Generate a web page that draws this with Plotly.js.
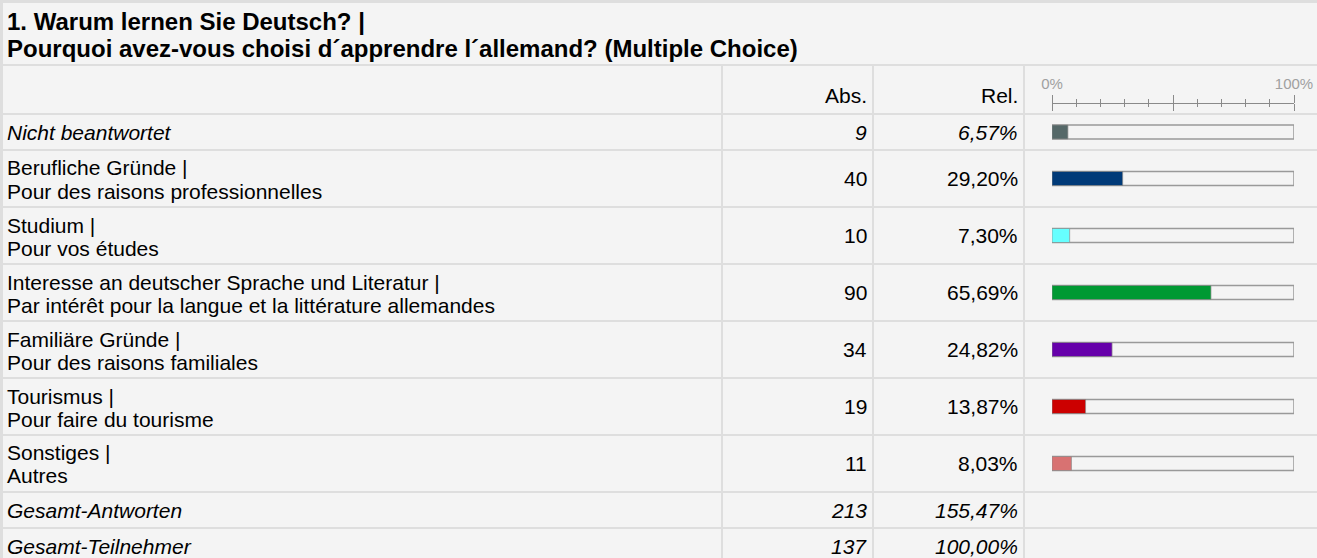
<!DOCTYPE html>
<html>
<head>
<meta charset="utf-8">
<script src="https://cdn.plot.ly/plotly-3.0.1.min.js"></script>
<style>html,body{margin:0;padding:0;background:#fff;}#chart{width:1317px;height:558px;}</style>
</head>
<body>
<div id="chart"></div>
<script>
// ---- data ----
const titleLines = ["1. Warum lernen Sie Deutsch? |", "Pourquoi avez-vous choisi d´apprendre l´allemand? (Multiple Choice)"];
const headerAbs = "Abs.";
const headerRel = "Rel.";
const categories = [
  "Nicht beantwortet",
  "Berufliche Gründe |<br>Pour des raisons professionnelles",
  "Studium |<br>Pour vos études",
  "Interesse an deutscher Sprache und Literatur |<br>Par intérêt pour la langue et la littérature allemandes",
  "Familiäre Gründe |<br>Pour des raisons familiales",
  "Tourismus |<br>Pour faire du tourisme",
  "Sonstiges |<br>Autres"
];
const italicRows = [true, false, false, false, false, false, false];
const absValues = [9, 40, 10, 90, 34, 19, 11];
const relValues = [6.57, 29.20, 7.30, 65.69, 24.82, 13.87, 8.03];
const barColors = ["#556868", "#003a78", "#66ffff", "#009933", "#6600aa", "#cc0000", "#d87272"];
const totalLabels = ["Gesamt-Antworten", "Gesamt-Teilnehmer"];
const totalAbs = [213, 137];
const totalRel = [155.47, 100.00];
const axisTickLabels = ["0%", "", "100%"];
const axisTickVals = [0, 50, 100];

// ---- layout helpers ----
const W = 1317, H = 558;
const px = x => x / W;
const py = y => 1 - y / H;
const fmt = v => v.toFixed(2).replace(".", ",") + "%";
const FONT = "Liberation Sans, Arial, sans-serif";
const GRID = "#dedede", CELL = "#f4f4f4";
const cols = [[3, 721], [723, 872], [874, 1023], [1025, 1317]];
const gap = 2;
const BODY = 21, TITLE = 24, LINE = 23;

const shapes = [];
const annotations = [];
function cell(x0, x1, y0, y1) {
  shapes.push({type: "rect", xref: "paper", yref: "paper", layer: "below",
    x0: px(x0), x1: px(x1), y0: py(y0), y1: py(y1),
    fillcolor: CELL, line: {width: 0}});
}
function txt(t, x, y, anchor, opts) {
  opts = opts || {};
  annotations.push({text: t, xref: "paper", yref: "paper", x: px(x), y: py(y),
    xanchor: anchor, yanchor: "middle", align: anchor === "right" ? "right" : "left",
    showarrow: false, borderpad: 0,
    font: {family: FONT, size: opts.size || BODY, color: opts.color || "#000"}});
}

// title row
cell(3, 1317, 3, 64);
txt("<b>" + titleLines[0] + "</b>", 6, 21.5, "left", {size: TITLE});
txt("<b>" + titleLines[1] + "</b>", 6, 48.5, "left", {size: TITLE});
// header row
cols.forEach(c => cell(c[0], c[1], 66, 113));
txt(headerAbs, 868, 95, "right");
txt(headerRel, 1019, 95, "right");

// rows
let y = 115;
const centers = [];
const allLabels = categories.concat(totalLabels);
const allAbs = absValues.concat(totalAbs);
const allRel = relValues.concat(totalRel);
const allItalic = italicRows.concat(totalLabels.map(() => true));
allLabels.forEach((lab, i) => {
  const parts = lab.split("<br>");
  const h = parts.length === 1 ? 34 : 55;
  cols.forEach(c => cell(c[0], c[1], y, y + h));
  const cy = y + h / 2;
  centers.push(cy);
  const w = s => allItalic[i] ? "<i>" + s + "</i>" : s;
  if (parts.length === 1) {
    txt(w(parts[0]), 6, cy, "left");
  } else {
    const start = cy + 1 - LINE * (parts.length - 1) / 2;
    parts.forEach((p, k) => txt(w(p), 6, start + k * LINE, "left"));
  }
  txt(w(String(allAbs[i])), 868, cy, "right");
  txt(w(fmt(allRel[i])), 1019, cy, "right");
  y += h + gap;
});

const barCenters = centers.slice(0, categories.length);

const traces = [
  { // track (full scale)
    type: "bar", orientation: "h", xaxis: "x2", yaxis: "y",
    x: relValues.map(() => 100), y: barCenters, width: 14,
    marker: {color: CELL, line: {color: "#999999", width: 1.5}},
    hoverinfo: "skip", showlegend: false
  },
  { // values
    type: "bar", orientation: "h", xaxis: "x3", yaxis: "y",
    x: relValues, y: barCenters, width: 14,
    marker: {color: barColors, line: {color: "rgba(140,140,140,0.7)", width: 1}},
    text: categories, hoverinfo: "x", textposition: "none", showlegend: false
  }
];

const axisPos = py(103);
const layout = {
  width: W, height: H,
  margin: {l: 0, r: 0, t: 0, b: 0, pad: 0},
  paper_bgcolor: GRID, plot_bgcolor: "rgba(0,0,0,0)",
  barmode: "overlay",
  showlegend: false,
  xaxis: {visible: false, range: [0, 1], domain: [0, 1]},
  yaxis: {visible: false, range: [H, 0], domain: [0, 1], fixedrange: true},
  xaxis2: {
    domain: [px(1052), px(1294)], range: [0, 100], anchor: "free", position: axisPos,
    side: "top", showgrid: false, zeroline: false,
    showline: true, linecolor: "#8a8a8a", linewidth: 1,
    ticks: "outside", ticklen: 8, tickcolor: "#8a8a8a", tickwidth: 1,
    tickmode: "array", tickvals: axisTickVals, ticktext: axisTickLabels,
    tickfont: {family: FONT, size: 15, color: "#a0a0a0"},
    minor: {dtick: 10, tick0: 0, ticks: "outside", ticklen: 4, tickcolor: "#8a8a8a", tickwidth: 1, showgrid: false}
  },
  xaxis3: {
    overlaying: "x2", range: [0, 100], anchor: "free", position: axisPos,
    side: "bottom", showgrid: false, zeroline: false, showline: false,
    ticks: "outside", ticklen: 7, tickcolor: "#8a8a8a", tickwidth: 1,
    tickmode: "array", tickvals: axisTickVals, showticklabels: false,
    minor: {dtick: 10, tick0: 0, ticks: "outside", ticklen: 3, tickcolor: "#8a8a8a", tickwidth: 1, showgrid: false}
  },
  shapes: shapes,
  annotations: annotations
};

Plotly.newPlot("chart", traces, layout, {displayModeBar: false, staticPlot: true});
</script>
</body>
</html>
